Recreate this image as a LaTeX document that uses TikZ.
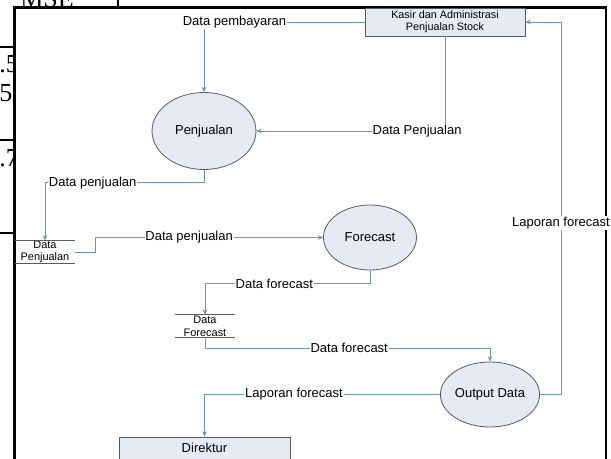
\documentclass[tikz,border=0pt]{standalone}
\usepackage{fontspec}
\setmainfont{Liberation Sans}
\newfontfamily\serifx{Liberation Serif}
\usetikzlibrary{arrows.meta,calc,shapes.geometric}
\definecolor{flow}{HTML}{6F93BE}
\definecolor{shapefill}{HTML}{E6EAF4}
\definecolor{shapeline}{HTML}{5A5A5A}
\begin{document}
\begin{tikzpicture}[x=0.75pt,y=-0.75pt,
  proc/.style={ellipse,draw=shapeline,fill=shapefill,line width=0.6pt,inner sep=0pt,font=\fontsize{9.75}{11}\selectfont},
  entity/.style={rectangle,draw=shapeline,fill=shapefill,line width=0.6pt,inner sep=0pt,align=center},
  store/.style={rectangle,inner sep=0pt,align=center,minimum width=45pt,minimum height=16.5pt,font=\fontsize{8.2}{9.5}\selectfont},
  storeline/.style={draw=shapeline,line width=0.7pt},
  flowline/.style={draw=flow,line width=0.6pt,-{Stealth[length=4pt,width=3.5pt]}},
  lbl/.style={fill=white,inner sep=0.6pt,font=\fontsize{9.75}{11}\selectfont},
  tabline/.style={draw=black,line width=1.5pt},
  tabtext/.style={font=\serifx\fontsize{19.5}{22}\selectfont,inner sep=0pt,anchor=base west}
]
\useasboundingbox (0,0) rectangle (611,459);
\begin{scope}
\clip (0,0) rectangle (611,459);
% background table fragments
\node[tabtext] (mse) at (20,7.5) {MSE};
\node[tabtext] (t1) at (-1,73) {.5};
\node[tabtext] (t2) at (-1,102) {5};
\node[tabtext] (t3) at (-1,167) {.7};
\draw[tabline] (118,0) -- (118,8);
\draw[tabline] (0,47) -- (15,47);
\draw[tabline] (0,140) -- (15,140);
\draw[tabline] (0,233) -- (15,233);
% white panel with frame
\draw[fill=white,draw=black,line width=2.2pt] (14.5,7.5) rectangle (606,480);

% nodes
\node[entity,minimum width=120pt,minimum height=21pt,font=\fontsize{8.1}{9}\selectfont] (kasir) at (445,22) {Kasir dan Administrasi\\Penjualan Stock};
\node[proc,minimum width=78pt,minimum height=57.75pt] (penj) at (204,131) {Penjualan};
\node[store] (st1) at (45,252) {Data\\Penjualan};
\node[proc,minimum width=69.75pt,minimum height=48.75pt] (fc) at (370,237.5) {Forecast};
\node[store] (st2) at (205,326) {Data\\Forecast};
\node[proc,minimum width=67.5pt,minimum height=48.75pt] (out) at (490,394.5) {Output Data};
\node[entity,minimum width=128.25pt,minimum height=28.5pt,font=\fontsize{9.75}{11}\selectfont,text depth=12pt] (dir) at (204.5,456) {Direktur};

% store lines
\draw[storeline] (st1.north west) -- (st1.north east) (st1.south west) -- (st1.south east);
\draw[storeline] (st2.north west) -- (st2.north east) (st2.south west) -- (st2.south east);

% flows
\draw[flowline] (kasir.west) -| node[lbl,pos=0.405] {Data pembayaran} (penj.north);
\draw[flowline] (kasir.south) |- node[lbl,pos=0.574] {Data Penjualan} (penj.east);
\draw[flowline] (penj.south) -- ++(0,13) -| node[lbl,pos=0.35] {Data penjualan} (st1.north);
\draw[flowline] (st1.east) -- ++(20,0) |- node[lbl,pos=0.706] {Data penjualan} (fc.west);
\draw[flowline] (fc.south) -- ++(0,13) -| node[lbl,pos=0.29] {Data forecast} (st2.north);
\draw[flowline] (st2.south) -- ++(0,11) -| node[lbl,pos=0.253] {Data forecast} (out.north);
\draw[flowline] (out.west) -| node[lbl,pos=0.31] {Laporan forecast} (dir.north);
\draw[flowline] (out.east) -- ++(21,0) |- node[lbl,pos=0.23] {Laporan forecast} (kasir.east);
\end{scope}
\end{tikzpicture}
\end{document}
